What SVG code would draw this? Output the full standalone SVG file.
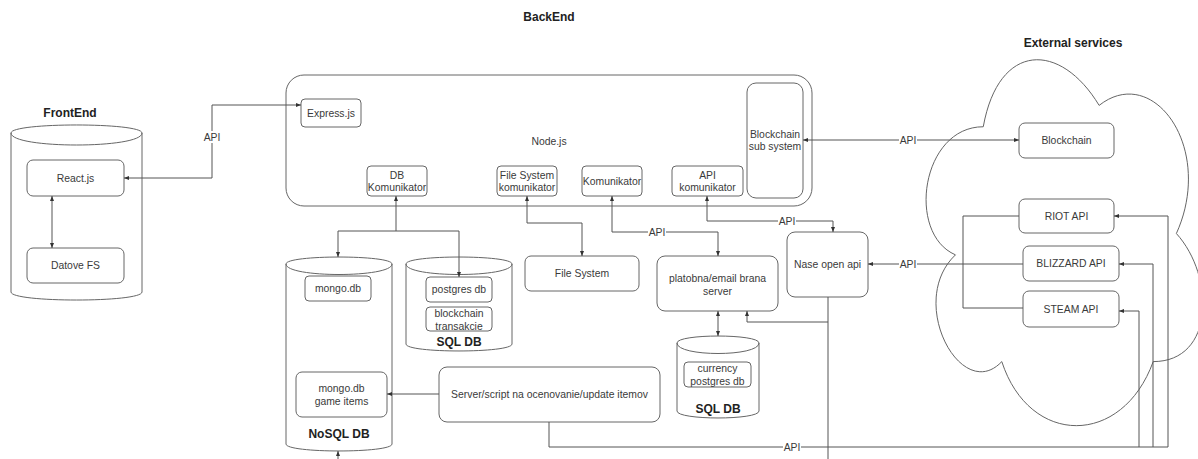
<svg xmlns="http://www.w3.org/2000/svg" width="1198" height="459" viewBox="0 0 1198 459">
<style>
.box{fill:#fff;stroke:#666;stroke-width:1}
.ctr{fill:none;stroke:#666;stroke-width:1}
.t{font-family:"Liberation Sans",Arial,sans-serif;font-size:10.4px;fill:#3a3a3a;text-anchor:middle}
.b{font-family:"Liberation Sans",Arial,sans-serif;font-size:12px;font-weight:bold;fill:#222;text-anchor:middle}
.c{fill:none;stroke:#555;stroke-width:1}
.lb{fill:#fff}
</style>
<defs>
<marker id="a" viewBox="0 0 10 10" refX="10" refY="5" markerWidth="5" markerHeight="5" markerUnits="userSpaceOnUse" orient="auto-start-reverse">
<path d="M0,1 L10,5 L0,9 z" fill="#333"/>
</marker>
</defs>
<rect width="1198" height="459" fill="#fff"/>

<text class="b" x="549" y="21">BackEnd</text>
<text class="b" x="70" y="117">FrontEnd</text>
<text class="b" x="1073" y="47">External services</text>

<g id="frontend">
<path class="ctr" d="M11,133 C11,122.3 142,122.3 142,133 L142,292 C142,302.7 11,302.7 11,292 Z M11,133 C11,149 142,149 142,133"/>
</g>
<g id="react"><rect class="box" x="27" y="160" width="97" height="36" rx="6"/><text class="t" x="75.5" y="181.5">React.js</text></g>
<g id="datove"><rect class="box" x="27" y="248" width="97" height="35" rx="6"/><text class="t" x="75.5" y="269">Datove FS</text></g>

<g id="nodejs"><rect class="box" x="286" y="75" width="526" height="131" rx="18"/><text class="t" x="549" y="145">Node.js</text></g>
<g id="express"><rect class="box" x="301" y="99" width="60" height="28" rx="4"/><text class="t" x="331" y="116.5">Express.js</text></g>
<g id="dbkom"><rect class="box" x="367" y="166" width="60" height="30" rx="4"/><text class="t" x="397" y="178.5">DB</text><text class="t" x="397" y="191">Komunikator</text></g>
<g id="fskom"><rect class="box" x="497" y="166" width="60" height="30" rx="4"/><text class="t" x="527" y="178.5">File System</text><text class="t" x="527" y="191">komunikator</text></g>
<g id="kom"><rect class="box" x="582" y="166" width="60" height="30" rx="4"/><text class="t" x="612" y="184.5">Komunikator</text></g>
<g id="apikom"><rect class="box" x="672" y="166" width="71" height="30" rx="4"/><text class="t" x="707.5" y="178.5">API</text><text class="t" x="707.5" y="191">komunikator</text></g>
<g id="bcsub"><rect class="box" x="747" y="83" width="56" height="115" rx="9"/><text class="t" x="775" y="137.5">Blockchain</text><text class="t" x="775" y="150">sub system</text></g>

<g id="nosql">
<path class="ctr" d="M286,264 C286,254.7 392,254.7 392,264 L392,444 C392,453.3 286,453.3 286,444 Z M286,264 C286,278 392,278 392,264"/>
<text class="b" x="339" y="438">NoSQL DB</text>
</g>
<g id="mongo"><rect class="box" x="305" y="276" width="66" height="25" rx="4"/><text class="t" x="338" y="292">mongo.db</text></g>
<g id="gameitems"><rect class="box" x="296" y="372" width="91" height="45" rx="6"/><text class="t" x="341.5" y="392">mongo.db</text><text class="t" x="341.5" y="405">game items</text></g>

<g id="sqldb">
<path class="ctr" d="M406,264 C406,254.7 512,254.7 512,264 L512,344 C512,353.3 406,353.3 406,344 Z M406,264 C406,278 512,278 512,264"/>
<text class="b" x="459" y="346">SQL DB</text>
</g>
<g id="postgres"><rect class="box" x="426" y="277" width="66" height="25" rx="4"/><text class="t" x="459" y="293">postgres db</text></g>
<g id="bctrans"><rect class="box" x="426" y="307" width="66" height="24" rx="4"/><text class="t" x="459" y="317">blockchain</text><text class="t" x="459" y="329.5">transakcie</text></g>

<g id="filesystem"><rect class="box" x="525" y="256" width="114" height="35" rx="6"/><text class="t" x="582" y="277">File System</text></g>
<g id="platobna"><rect class="box" x="657" y="256" width="121" height="55" rx="8"/><text class="t" x="717.5" y="281.5">platobna/email brana</text><text class="t" x="717.5" y="294.5">server</text></g>
<g id="nase"><rect class="box" x="787" y="232" width="81" height="65" rx="8"/><text class="t" x="827.5" y="267.5">Nase open api</text></g>

<g id="sqldb2">
<path class="ctr" d="M677,343 C677,333.7 759,333.7 759,343 L759,411 C759,420.3 677,420.3 677,411 Z M677,343 C677,357 759,357 759,343"/>
<text class="b" x="718" y="413">SQL DB</text>
</g>
<g id="currency"><rect class="box" x="684" y="362" width="67" height="25" rx="4"/><text class="t" x="717.5" y="371.5">currency</text><text class="t" x="717.5" y="384.5">postgres db</text></g>

<g id="server"><rect class="box" x="439" y="367" width="221" height="55" rx="8"/><text class="t" x="549.5" y="398">Server/script na ocenovanie/update itemov</text></g>

<g id="cloud">
<path class="ctr" d="M983.25,126.75 C921.45,126.75 906,233.5 955.44,254.85 C906,301.82 961.62,404.3 1001.79,361.6 C1029.6,447 1122.3,447 1153.2,361.6 C1215,361.6 1215,276.2 1176.38,233.5 C1215,148.1 1153.2,62.7 1099.13,105.4 C1060.5,41.35 998.7,41.35 983.25,126.75 Z"/>
</g>
<g id="blockchain"><rect class="box" x="1019" y="123" width="95" height="35" rx="6"/><text class="t" x="1066.5" y="144">Blockchain</text></g>
<g id="riot"><rect class="box" x="1019" y="199" width="95" height="34" rx="6"/><text class="t" x="1066.5" y="219.5">RIOT API</text></g>
<g id="blizzard"><rect class="box" x="1023" y="246" width="96" height="35" rx="6"/><text class="t" x="1071" y="267">BLIZZARD API</text></g>
<g id="steam"><rect class="box" x="1023" y="291" width="96" height="36" rx="6"/><text class="t" x="1071" y="312.5">STEAM API</text></g>

<g id="connectors">
<path class="c" d="M124,178 H212 V105 H301" marker-start="url(#a)" marker-end="url(#a)"/>
<path class="c" d="M52,196 V248" marker-start="url(#a)" marker-end="url(#a)"/>
<path class="c" d="M396,196 V231 H338 V257" marker-start="url(#a)" marker-end="url(#a)"/>
<path class="c" d="M396,231 H459 V277" marker-end="url(#a)"/>
<path class="c" d="M527,196 V223 H582 V256" marker-start="url(#a)" marker-end="url(#a)"/>
<path class="c" d="M612,196 V232 H718 V256" marker-start="url(#a)" marker-end="url(#a)"/>
<path class="c" d="M707,196 V221 H833 V232" marker-start="url(#a)" marker-end="url(#a)"/>
<path class="c" d="M803,140 H1019" marker-start="url(#a)" marker-end="url(#a)"/>
<path class="c" d="M1023,264 H868" marker-end="url(#a)"/>
<path class="c" d="M1019,216 H963 V308 H1023"/>
<path class="c" d="M718,311 V336" marker-start="url(#a)" marker-end="url(#a)"/>
<path class="c" d="M828,297 V459"/>
<path class="c" d="M828,322 H747 V311" marker-end="url(#a)"/>
<path class="c" d="M439,394 H387" marker-end="url(#a)"/>
<path class="c" d="M549,422 V447 H1168 V216 H1114" marker-end="url(#a)"/>
<path class="c" d="M1153,447 V264 H1119" marker-end="url(#a)"/>
<path class="c" d="M1139,447 V311 H1119" marker-end="url(#a)"/>
<path class="c" d="M338,459 V451" marker-end="url(#a)"/>
<rect class="lb" x="203" y="131" width="18" height="12"/><text class="t" x="212" y="140.5">API</text>
<rect class="lb" x="648" y="226" width="18" height="12"/><text class="t" x="657" y="235.5">API</text>
<rect class="lb" x="778" y="215" width="18" height="12"/><text class="t" x="787" y="224.5">API</text>
<rect class="lb" x="899" y="134" width="18" height="12"/><text class="t" x="908" y="143.5">API</text>
<rect class="lb" x="899" y="258" width="18" height="12"/><text class="t" x="908" y="267.5">API</text>
<rect class="lb" x="783" y="441" width="18" height="12"/><text class="t" x="792" y="450.5">API</text>
</g>
</svg>
